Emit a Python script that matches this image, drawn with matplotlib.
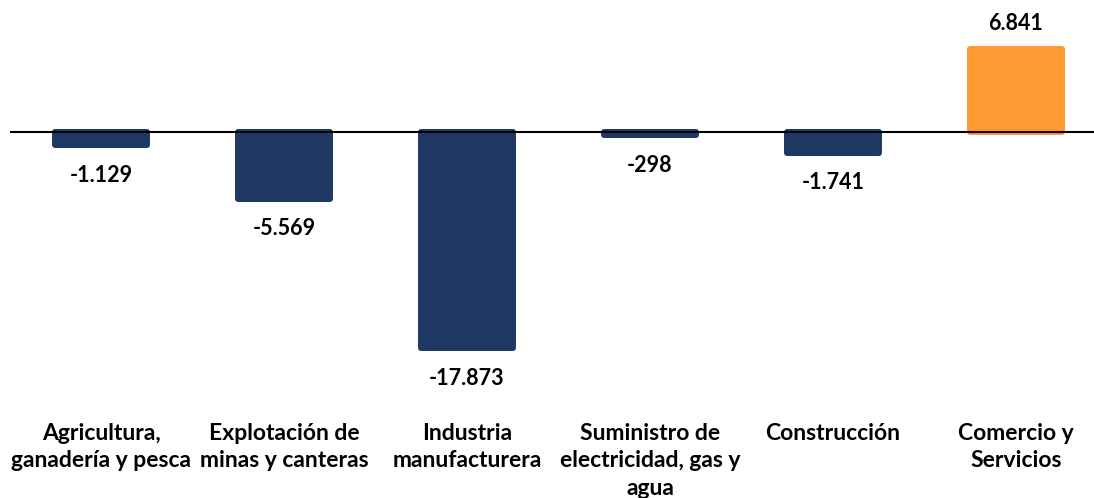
import matplotlib
matplotlib.use("Agg")
import matplotlib.pyplot as plt
from matplotlib.transforms import blended_transform_factory

categories = ["Agricultura,\nganadería y pesca", "Explotación de\nminas y canteras",
              "Industria\nmanufacturera", "Suministro de\nelectricidad, gas y\nagua",
              "Construcción", "Comercio y\nServicios"]
values = [-1129, -5569, -17873, -298, -1741, 6841]
value_labels = ["-1.129", "-5.569", "-17.873", "-298", "-1.741", "6.841"]
colors = ["#1F3864", "#1F3864", "#1F3864", "#1F3864", "#1F3864", "#FF9933"]

plt.rcParams['font.family'] = ['Lato', 'DejaVu Sans']

W, H = 1094, 498
fig = plt.figure(figsize=(W/100, H/100), dpi=100)
ax = fig.add_axes([10/W, 0, 1 - 10/W, 1])

zero_px = 131.5
px = 12.12 / 1000  # pixels per unit
ax.set_ylim(-(H - zero_px) / px, zero_px / px)
ax.set_xlim(-91/183, 5 + 78/183)

x = list(range(len(values)))
ax.bar(x, values, width=0.508, color=colors, edgecolor=colors, linewidth=4.3,
       joinstyle='round', zorder=2)
ax.axhline(0, color="black", linewidth=1.5, zorder=3)

for xi, v, lab in zip(x, values, value_labels):
    if v < 0:
        ax.text(xi, v - 19.5 / px, lab, ha='center', va='top', fontsize=15.5,
                fontweight='bold', color='black')
    else:
        ax.text(xi, v + 18.5 / px, lab, ha='center', va='baseline', fontsize=15.5,
                fontweight='bold', color='black')

trans = blended_transform_factory(ax.transData, ax.transAxes)
for xi, c in zip(x, categories):
    ax.text(xi, 1 - 423 / H, c, ha='center', va='top', fontsize=16.5,
            fontweight='bold', color='black', transform=trans, linespacing=1.38)

ax.axis('off')
fig.savefig("out.png", dpi=100)
